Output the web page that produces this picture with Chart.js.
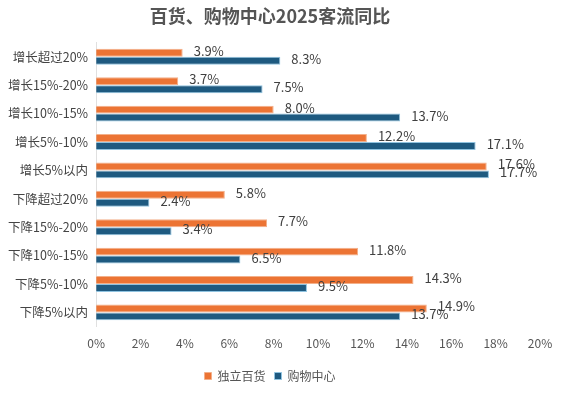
<!DOCTYPE html>
<html><head><meta charset="utf-8">
<script src="https://cdn.jsdelivr.net/npm/chart.js@4"></script>
<style>html,body{margin:0;padding:0;background:#fff}#w{width:570px;height:393px}</style>
</head><body><div id="w"><canvas id="c"></canvas></div>
<script>
const categories = ['增长超过20%','增长15%-20%','增长10%-15%','增长5%-10%','增长5%以内','下降超过20%','下降15%-20%','下降10%-15%','下降5%-10%','下降5%以内'];
const deptStore = [3.9,3.7,8.0,12.2,17.6,5.8,7.7,11.8,14.3,14.9];
const mall = [8.3,7.5,13.7,17.1,17.7,2.4,3.4,6.5,9.5,13.7];
const xTicks = [0,2,4,6,8,10,12,14,16,18,20];
const FONT = "'Noto Sans CJK SC','Noto Sans',sans-serif";

const labelPlugin = {
  id:'lbl',
  afterDatasetsDraw(chart){
    const ctx = chart.ctx;
    ctx.save();
    ctx.font = '13px ' + FONT;
    ctx.fillStyle = '#404040';
    ctx.textBaseline = 'middle';
    ctx.textAlign = 'left';
    chart.data.datasets.forEach((ds,i)=>{
      chart.getDatasetMeta(i).data.forEach((el,j)=>{
        ctx.fillText(ds.data[j].toFixed(1)+'%', el.x + 11, el.y - 2);
      });
    });
    ctx.restore();
  }
};

new Chart(document.getElementById('c'),{
  type:'bar',
  data:{labels:categories,datasets:[
    {label:'独立百货',data:deptStore,backgroundColor:'#EC7434',borderColor:'#F3B08A',borderWidth:1,borderSkipped:'left'},
    {label:'购物中心',data:mall,backgroundColor:'#1E5A80',borderColor:'#8FC3E0',borderWidth:1,borderSkipped:'left'}
  ]},
  options:{
    indexAxis:'y',responsive:true,maintainAspectRatio:false,animation:false,
    layout:{padding:{left:0,right:30,top:0,bottom:1}},
    datasets:{bar:{categoryPercentage:0.56,barPercentage:1}},
    plugins:{
      title:{display:true,text:'百货、购物中心2025客流同比',color:'#555',font:{family:FONT,size:18,weight:'bold'},padding:{top:5,bottom:16}},
      legend:{position:'bottom',labels:{boxWidth:7,boxHeight:7,padding:9,color:'#555',font:{family:FONT,size:12}}},
      tooltip:{enabled:false}
    },
    scales:{
      x:{min:0,max:20,afterBuildTicks(s){s.ticks=xTicks.map(v=>({value:v}));},
        ticks:{callback:v=>v+'%',color:'#555',font:{family:FONT,size:12},padding:10},
        grid:{display:false,drawTicks:false},border:{display:false}},
      y:{ticks:{color:'#444',font:{family:FONT,size:12.5},padding:8},
        grid:{display:false,drawTicks:false},border:{display:true,color:'#e0e0e0'}}
    }
  },
  plugins:[labelPlugin]
});
</script></body></html>
